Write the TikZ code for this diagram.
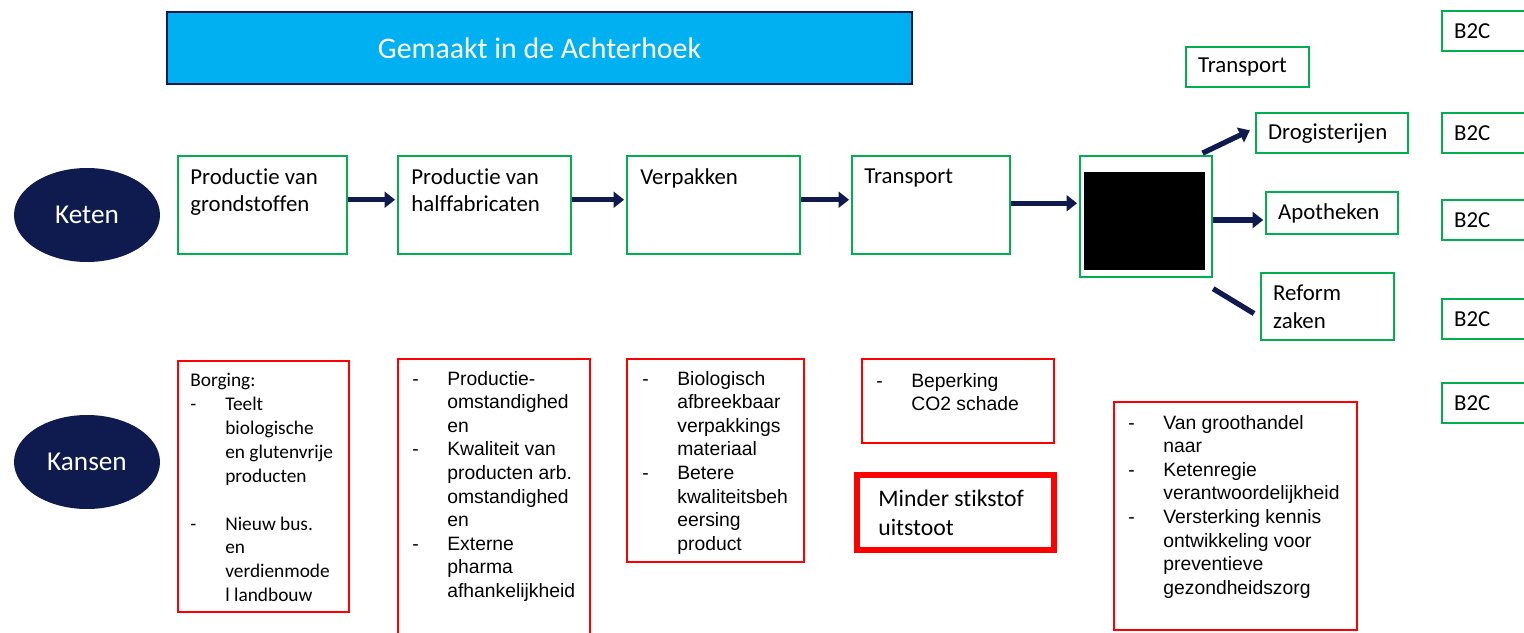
\documentclass[tikz,border=0pt]{standalone}
\usepackage{fontspec}
\setmainfont{Carlito}[Ligatures=NoCommon]
\newfontfamily\arialfont{Liberation Sans}
\usetikzlibrary{arrows.meta,fit,shapes.geometric,positioning}

\definecolor{navy}{RGB}{15,26,78}
\definecolor{titlebg}{RGB}{0,176,240}
\definecolor{chaingreen}{RGB}{0,176,80}

\newcommand{\itm}{\makebox[0.7cm][l]{-}}
\newcommand{\ind}{\hspace*{0.7cm}}

\begin{document}
\begin{tikzpicture}[x=0.02cm,y=-0.02cm,
    gbox/.style={draw=chaingreen,line width=1.3pt,inner sep=0pt},
    rbox/.style={draw=red,line width=1.2pt,inner sep=0pt},
    side/.style={gbox,anchor=north west,align=left,inner xsep=12*0.02cm,
      font=\fontsize{13}{15.5}\selectfont},
    lbl/.style={anchor=north west,inner sep=0pt,align=left,font=\fontsize{13}{15.5}\selectfont},
    note/.style={anchor=north west,inner sep=0pt,align=left,font=\arialfont\fontsize{11}{13.4}\selectfont},
    oval/.style={ellipse,fill=navy,text=white,inner sep=0pt,minimum width=2.92cm,
      minimum height=1.88cm,font=\fontsize{15.5}{18}\selectfont},
    arr/.style={navy,line width=3pt,-{Triangle[length=6pt,width=9pt]},shorten >=1pt}]
  \useasboundingbox (0,0) rectangle (1524,632);

  % title bar
  \node[fit={(167,12) (912,84)},inner sep=0pt,fill=titlebg,draw=navy,line width=1.6pt] (title) {};
  \node[text=white,font=\fontsize{17}{20}\selectfont] (titlet) at (title.center) {Gemaakt in de Achterhoek};

  \node[oval] (keten) at (87,215) {Keten};
  \node[oval] (kansen) at (87,462) {Kansen};

  % keten
  \node[gbox,fit={(178,156) (347,254)}] (p1) {};
  \node[gbox,fit={(398,156) (571,254)}] (p2) {};
  \node[gbox,fit={(627,156) (800,254)}] (p3) {};
  \node[gbox,fit={(852,156) (1010,254)}] (p4) {};
  \node[gbox,fit={(1080,156) (1212,277)}] (med) {};
  \node[fill=black,fit={(1084,172) (1205,270)},inner sep=0pt] (redact) {};

  \node[lbl] (p1t) at (190,168) {Productie van\\grondstoffen};
  \node[lbl] (p2t) at (411,168) {Productie van\\halffabricaten};
  \node[lbl] (p3t) at (640,168) {Verpakken};
  \node[lbl] (p4t) at (864,168) {Transport};

  \draw[arr] ([yshift=3pt]p1.east) -- ([yshift=3pt]p2.west);
  \draw[arr] ([yshift=3pt]p2.east) -- ([yshift=3pt]p3.west);
  \draw[arr] ([yshift=3pt]p3.east) -- ([yshift=3pt]p4.west);
  \draw[arr] ([yshift=1pt]p4.east) -- ([yshift=1pt]p4.east -| med.west);

  % afzet
  \node[side,minimum width=123*0.02cm,minimum height=40*0.02cm,text width=99*0.02cm] (trans) at (1185,46) {Transport};
  \node[side,minimum width=152*0.02cm,minimum height=40*0.02cm,text width=128*0.02cm] (drog) at (1255,112) {Drogisterijen};
  \node[side,minimum width=132*0.02cm,minimum height=42*0.02cm,text width=108*0.02cm] (apo) at (1265,191) {Apotheken};
  \node[side,minimum width=133*0.02cm,minimum height=67*0.02cm,text width=109*0.02cm] (reform) at (1260,272) {Reform\\zaken};

  \foreach \y [count=\i] in {10,112,199,298,382}
    \node[side,minimum width=100*0.02cm,minimum height=40*0.02cm,text width=76*0.02cm] (b2c\i) at (1441,\y) {B2C};

  \draw[arr] ([xshift=-6pt,yshift=1pt]med.north east) -- ([xshift=-2pt,yshift=2pt]drog.west);
  \draw[arr] ([yshift=-2pt]med.east) -- ([yshift=-2pt]med.east -| apo.west);
  \draw[navy,line width=3pt,shorten >=4pt] ([yshift=-6pt]med.south east) -- ([yshift=-6pt]reform.west);

  % kansen
  \node[rbox,fit={(178,361) (349,612)}] (k1) {};
  \node[rbox,fit={(398,359) (590,650)}] (k2) {};
  \node[rbox,fit={(627,359) (804,562)}] (k3) {};
  \node[rbox,fit={(862,359) (1054,443)}] (k4) {};
  \node[draw=red,line width=3.2pt,inner sep=0pt,fit={(857,475) (1054,550)}] (stik) {};
  \node[rbox,fit={(1114,402) (1357,630)}] (k6) {};

  \node[lbl,font=\fontsize{11}{13.6}\selectfont] (k1t) at (190,373)
    {Borging:\\\itm Teelt\\\ind biologische\\\ind en glutenvrije\\\ind producten\\[13.6pt]
     \itm Nieuw bus.\\\ind en\\\ind verdienmode\\\ind l landbouw};
  \node[note] (k2t) at (412,371)
    {\itm Productie-\\\ind omstandighed\\\ind en\\\itm Kwaliteit van\\\ind producten arb.\\
     \ind omstandighed\\\ind en\\\itm Externe\\\ind pharma\\\ind afhankelijkheid};
  \node[note] (k3t) at (642,371)
    {\itm Biologisch\\\ind afbreekbaar\\\ind verpakkings\\\ind materiaal\\\itm Betere\\
     \ind kwaliteitsbeh\\\ind eersing\\\ind product};
  \node[note] (k4t) at (876,373) {\itm Beperking\\\ind CO2 schade};
  \node[lbl,font=\fontsize{13.5}{16.4}\selectfont] (stikt) at (878,490) {Minder stikstof\\uitstoot};
  \node[note] (k6t) at (1128,415)
    {\itm Van groothandel\\\ind naar\\\itm Ketenregie\\\ind verantwoordelijkheid\\
     \itm Versterking kennis\\\ind ontwikkeling voor\\\ind preventieve\\\ind gezondheidszorg};
\end{tikzpicture}
\end{document}
